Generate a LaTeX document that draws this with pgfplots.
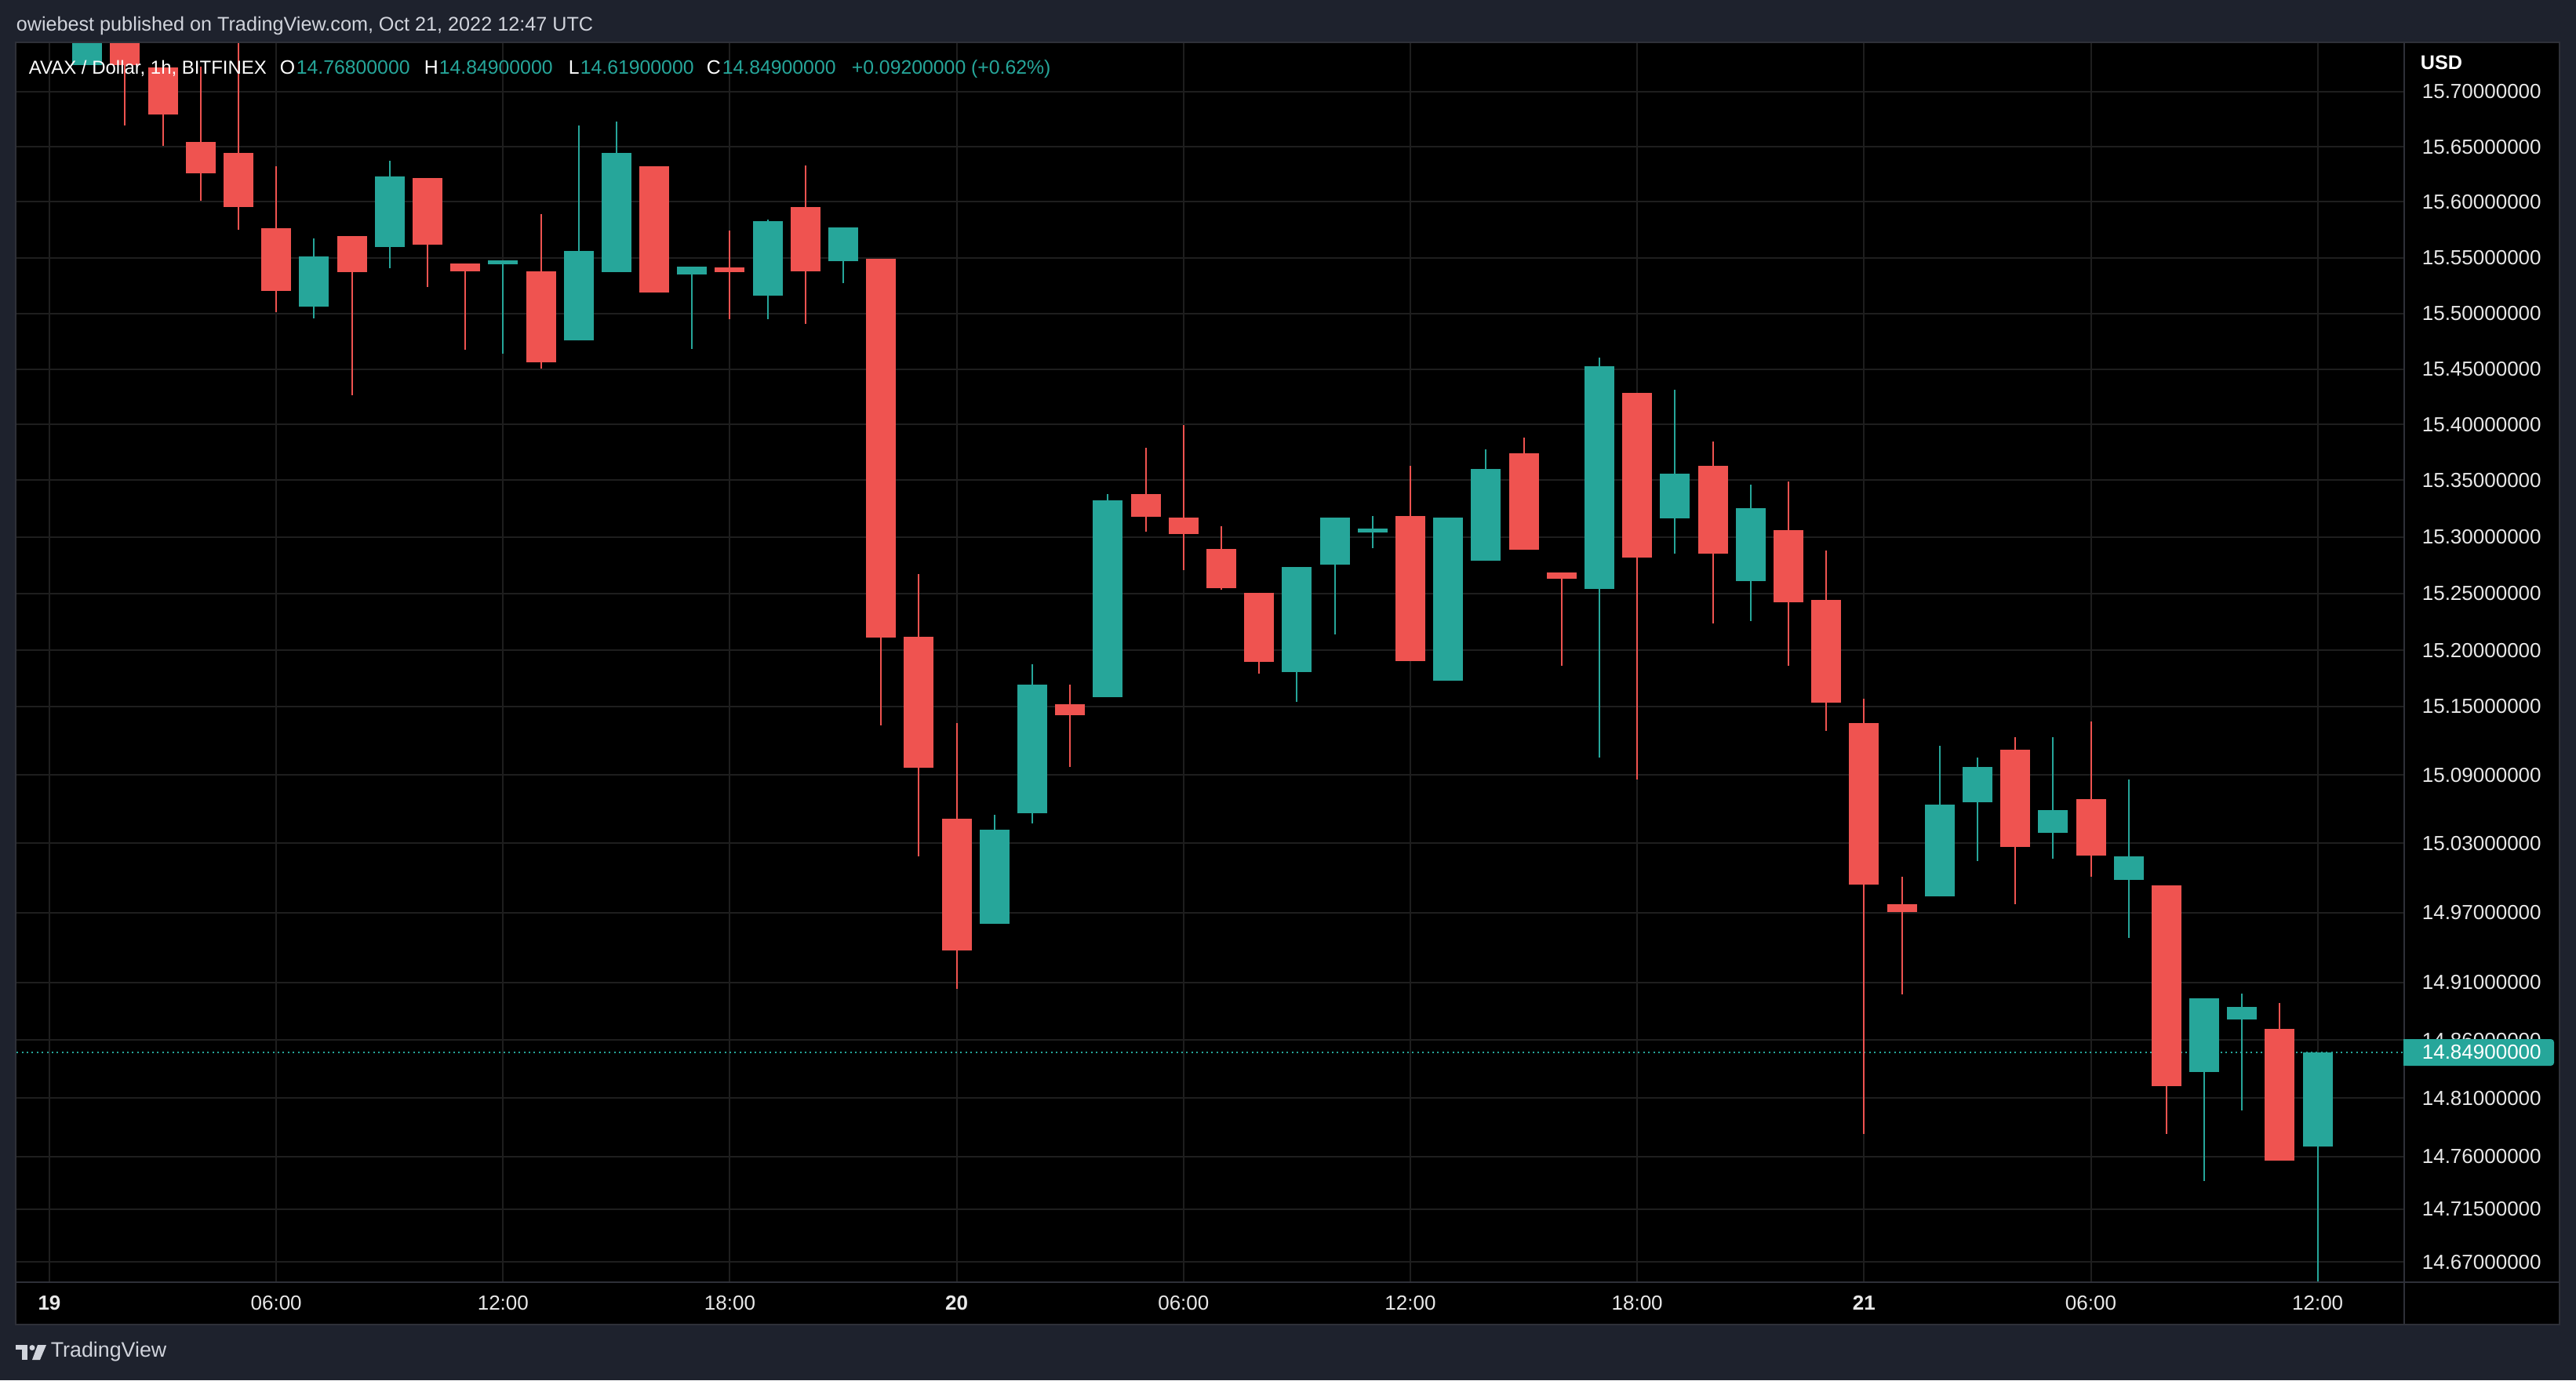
\documentclass[border=0pt]{standalone}
\usepackage{pgfplots}
\pgfplotsset{compat=1.18}
\usepackage{fontspec}
\setmainfont{Liberation Sans}
\definecolor{bgout}{RGB}{30,34,45}
\definecolor{frame}{RGB}{46,48,56}
\definecolor{gridc}{RGB}{30,30,30}
\definecolor{upc}{RGB}{38,166,154}
\definecolor{dnc}{RGB}{239,83,80}
\definecolor{txt}{RGB}{209,212,220}
\definecolor{axtxt}{RGB}{232,232,232}
\newcommand{\fs}[1]{\fontsize{#1}{#1}\selectfont}
\begin{document}
\begin{tikzpicture}
\fill[bgout] (0,0) rectangle (821pt,-440pt);
\begin{scope}[x=0.25pt,y=-0.25pt]
\fill[black] (20,54) rectangle (3263,1689);
\end{scope}
\begin{axis}[
  at={(5pt,-408.75pt)}, anchor=south west,
  width=761.25pt, height=395.25pt, scale only axis,
  xmin=-0.892, xmax=62.29,
  ymode=log, ymin=14.6528, ymax=15.7452,
  axis line style={draw=none},
  xtick={0,6,12,18,24,30,36,42,48,54,60},
  xticklabels={\textbf{19},06:00,12:00,18:00,\textbf{20},06:00,12:00,18:00,\textbf{21},06:00,12:00},
  ytick={15.70,15.65,15.60,15.55,15.50,15.45,15.40,15.35,15.30,15.25,15.20,15.15,15.09,15.03,14.97,14.91,14.86,14.81,14.76,14.715,14.67},
  yticklabels={15.70000000,15.65000000,15.60000000,15.55000000,15.50000000,15.45000000,15.40000000,15.35000000,15.30000000,15.25000000,15.20000000,15.15000000,15.09000000,15.03000000,14.97000000,14.91000000,14.86000000,14.81000000,14.76000000,14.71500000,14.67000000},
  yticklabel pos=right,
  major tick length=0pt,
  tick style={draw=none},
  grid=major,
  major grid style={draw=gridc, line width=0.5pt},
  xticklabel style={font=\fs{6.5pt}, text=axtxt, anchor=base, inner sep=0pt, yshift=-9.1pt},
  yticklabel style={font=\fs{6.5pt}, text=axtxt, anchor=west, inner sep=0pt, xshift=5.5pt},
  unbounded coords=jump,
  clip=true,
]
% last price line
\addplot[upc, line width=0.5pt, dash pattern=on 0.5pt off 1.1pt] coordinates {(-1,14.849) (63,14.849)};
% up candles: wicks (low, high)
\addplot[upc, line width=0.5pt] coordinates {
(1,15.7247) (1,15.7696) (1,nan)
(7,15.4954) (7,15.5672) (7,nan)
(9,15.5406) (9,15.6374) (9,nan)
(12,15.4642) (12,15.5474) (12,nan)
(14,15.4755) (14,15.6688) (14,nan)
(15,15.5363) (15,15.6738) (15,nan)
(17,15.4677) (17,15.5425) (17,nan)
(19,15.4940) (19,15.5842) (19,nan)
(21,15.5264) (21,15.5771) (21,nan)
(25,14.9605) (25,15.0554) (25,nan)
(26,15.0472) (26,15.1875) (26,nan)
(28,15.1585) (28,15.3374) (28,nan)
(33,15.1543) (33,15.2735) (33,nan)
(34,15.2131) (34,15.3165) (34,nan)
(35,15.2907) (35,15.3193) (35,nan)
(37,15.1730) (37,15.3165) (37,nan)
(38,15.2789) (38,15.3772) (38,nan)
(41,15.1062) (41,15.4607) (41,nan)
(43,15.2847) (43,15.4311) (43,nan)
(45,15.2255) (45,15.3471) (45,nan)
(50,14.9839) (50,15.1167) (50,nan)
(51,15.0144) (51,15.1055) (51,nan)
(53,15.0173) (53,15.1236) (53,nan)
(55,14.9477) (55,15.0865) (55,nan)
(57,14.7390) (57,14.8960) (57,nan)
(58,14.7997) (58,14.9000) (58,nan)
(60,14.619) (60,14.849)
};
% down candles: wicks (high, low)
\addplot[dnc, line width=0.5pt] coordinates {
(2,15.7696) (2,15.6695) (2,nan)
(3,15.7266) (3,15.6506) (3,nan)
(4,15.7230) (4,15.6007) (4,nan)
(5,15.7553) (5,15.5750) (5,nan)
(6,15.6318) (6,15.5010) (6,nan)
(8,15.5693) (8,15.4260) (8,nan)
(10,15.6218) (10,15.5236) (10,nan)
(11,15.5446) (11,15.4665) (11,nan)
(13,15.5892) (13,15.4501) (13,nan)
(16,15.6318) (16,15.5187) (16,nan)
(18,15.5742) (18,15.4940) (18,nan)
(20,15.6325) (20,15.4898) (20,nan)
(22,15.5490) (22,15.1337) (22,nan)
(23,15.2664) (23,15.0193) (23,nan)
(24,15.1351) (24,14.9041) (24,nan)
(27,15.1695) (27,15.0968) (27,nan)
(29,15.3794) (29,15.3046) (29,nan)
(30,15.3996) (30,15.2707) (30,nan)
(31,15.3095) (31,15.2532) (31,nan)
(32,15.2504) (32,15.1785) (32,nan)
(36,15.3625) (36,15.1909) (36,nan)
(39,15.3884) (39,15.2879) (39,nan)
(40,15.2688) (40,15.1854) (40,nan)
(42,15.4283) (42,15.0865) (42,nan)
(44,15.3842) (44,15.2236) (44,nan)
(46,15.3492) (46,15.1854) (46,nan)
(47,15.2875) (47,15.1282) (47,nan)
(48,15.1567) (48,14.7793) (48,nan)
(49,15.0014) (49,14.8994) (49,nan)
(52,15.1236) (52,14.9782) (52,nan)
(54,15.1367) (54,15.0014) (54,nan)
(56,14.9935) (56,14.7793) (56,nan)
(59,14.8926) (59,14.7564)
};
% up candles: bodies (open, close)
\addplot[upc, line width=9.5pt] coordinates {
(1,15.7247) (1,15.7553) (1,nan)
(7,15.5053) (7,15.5502) (7,nan)
(9,15.5594) (9,15.6232) (9,nan)
(12,15.5441) (12,15.5474) (12,nan)
(14,15.4755) (14,15.5566) (14,nan)
(15,15.5363) (15,15.6446) (15,nan)
(17,15.5347) (17,15.5418) (17,nan)
(19,15.5153) (19,15.5828) (19,nan)
(21,15.5469) (21,15.5771) (21,nan)
(25,14.9605) (25,15.0424) (25,nan)
(26,15.0568) (26,15.1695) (26,nan)
(28,15.1585) (28,15.3327) (28,nan)
(33,15.1808) (33,15.2735) (33,nan)
(34,15.2754) (34,15.3165) (34,nan)
(35,15.3039) (35,15.3067) (35,nan)
(37,15.1730) (37,15.3165) (37,nan)
(38,15.2789) (38,15.3604) (38,nan)
(41,15.2539) (41,15.4522) (41,nan)
(43,15.3158) (43,15.3562) (43,nan)
(45,15.2610) (45,15.3255) (45,nan)
(50,14.9839) (50,15.0643) (50,nan)
(51,15.0666) (51,15.0968) (51,nan)
(53,15.0390) (53,15.0598) (53,nan)
(55,14.9994) (55,15.0185) (55,nan)
(57,14.8327) (57,14.8960) (57,nan)
(58,14.8780) (58,14.8892) (58,nan)
(60,14.768) (60,14.849)
};
% down candles: bodies (open, close)
\addplot[dnc, line width=9.5pt] coordinates {
(2,15.7624) (2,15.7245) (2,nan)
(3,15.7223) (3,15.6795) (3,nan)
(4,15.6546) (4,15.6261) (4,nan)
(5,15.6446) (5,15.5956) (5,nan)
(6,15.5755) (6,15.5199) (6,nan)
(8,15.5693) (8,15.5363) (8,nan)
(10,15.6218) (10,15.5615) (10,nan)
(11,15.5446) (11,15.5370) (11,nan)
(13,15.5382) (13,15.4559) (13,nan)
(16,15.6318) (16,15.5187) (16,nan)
(18,15.5403) (18,15.5363) (18,nan)
(20,15.5956) (20,15.5377) (20,nan)
(22,15.5490) (22,15.2109) (22,nan)
(23,15.2123) (23,15.0959) (23,nan)
(24,15.0513) (24,14.9374) (24,nan)
(27,15.1523) (27,15.1426) (27,nan)
(29,15.3374) (29,15.3179) (29,nan)
(30,15.3173) (30,15.3019) (30,nan)
(31,15.2893) (31,15.2546) (31,nan)
(32,15.2504) (32,15.1895) (32,nan)
(36,15.3193) (36,15.1909) (36,nan)
(39,15.3744) (39,15.2879) (39,nan)
(40,15.2685) (40,15.2629) (40,nan)
(42,15.4283) (42,15.2817) (42,nan)
(44,15.3625) (44,15.2840) (44,nan)
(46,15.3053) (46,15.2414) (46,nan)
(47,15.2443) (47,15.1538) (47,nan)
(48,15.1351) (48,14.9946) (48,nan)
(49,14.9777) (49,14.9709) (49,nan)
(52,15.1124) (52,15.0275) (52,nan)
(54,15.0691) (54,15.0201) (54,nan)
(56,14.9935) (56,14.8198) (56,nan)
(59,14.8696) (59,14.7564)
};
\end{axis}
\begin{scope}[x=0.25pt,y=-0.25pt]
% panel frame and separators
\draw[frame, line width=0.5pt] (20,54) rectangle (3263,1689);
\draw[frame, line width=0.5pt] (3065,54) -- (3065,1689);
\draw[frame, line width=0.5pt] (20,1634.5) -- (3263,1634.5);
% price tag
\fill[upc, rounded corners=1pt] (3064,1325) rectangle (3256,1359);
\fill[upc] (3064,1325) rectangle (3240,1359);
\node[anchor=west, inner sep=0pt, text=white, font=\fs{6.5pt}] at (3087,1342) {14.84900000};
% currency
\node[anchor=west, inner sep=0pt, text=white, font=\fs{6.3pt}\bfseries] at (3085,80) {USD};
% header
\node[anchor=base west, inner sep=0pt, text=txt, font=\fs{6.3pt}] at (20,39) {owiebest published on TradingView.com, Oct 21, 2022 12:47 UTC};
% legend
\node[anchor=base west, inner sep=0pt, text=white, font=\fs{6.0pt}] at (36,94) {AVAX / Dollar, 1h, BITFINEX};
\node[anchor=base west, inner sep=0pt, text=white, font=\fs{6.2pt}] at (356,94) {O};
\node[anchor=base west, inner sep=0pt, text=upc, font=\fs{6.2pt}] at (377,94) {14.76800000};
\node[anchor=base west, inner sep=0pt, text=white, font=\fs{6.2pt}] at (540,94) {H};
\node[anchor=base west, inner sep=0pt, text=upc, font=\fs{6.2pt}] at (559,94) {14.84900000};
\node[anchor=base west, inner sep=0pt, text=white, font=\fs{6.2pt}] at (724,94) {L};
\node[anchor=base west, inner sep=0pt, text=upc, font=\fs{6.2pt}] at (739,94) {14.61900000};
\node[anchor=base west, inner sep=0pt, text=white, font=\fs{6.2pt}] at (900,94) {C};
\node[anchor=base west, inner sep=0pt, text=upc, font=\fs{6.2pt}] at (920,94) {14.84900000};
\node[anchor=base west, inner sep=0pt, text=upc, font=\fs{6.2pt}] at (1085,94) {+0.09200000 (+0.62\%)};
% TradingView logo
\fill[txt] (20,1715) rectangle (35,1721);
\fill[txt] (28,1715) rectangle (35,1734);
\fill[txt] (41,1718.5) circle (3.5);
\fill[txt] (48,1715) -- (59,1715) -- (51,1734) -- (41,1734) -- cycle;
\node[anchor=west, inner sep=0pt, text=txt, font=\fs{6.7pt}] at (64,1724) {TradingView};
\end{scope}
\end{tikzpicture}
\end{document}
